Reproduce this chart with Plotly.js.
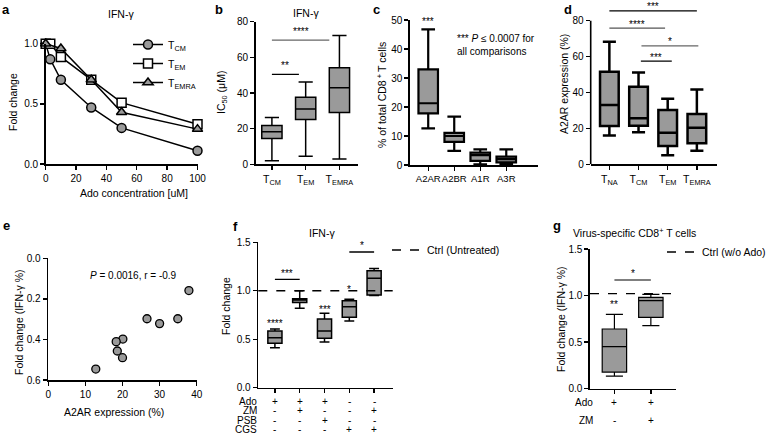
<!DOCTYPE html>
<html>
<head>
<meta charset="utf-8">
<script src="https://cdn.plot.ly/plotly-3.0.1.min.js"></script>
<style>html,body{margin:0;padding:0;background:#fff;}#chart{width:778px;height:439px;}</style>
</head>
<body>
<div id="chart"></div>
<script>
// ---------- DATA ----------
// Panel a
const adoConc = [0, 3, 10, 30, 50, 100];
const foldTCM = [1.0, 0.87, 0.70, 0.47, 0.30, 0.11];
const foldTEM = [1.0, 1.0, 0.89, 0.70, 0.51, 0.33];
const foldTEMRA = [1.0, null, 0.96, 0.70, 0.43, 0.29];
const legendA = ['T<sub>CM</sub>', 'T<sub>EM</sub>', 'T<sub>EMRA</sub>'];
// Panel b
const catB = ['TCM', 'TEM', 'TEMRA'];
const tickB = ['T<sub>CM</sub>', 'T<sub>EM</sub>', 'T<sub>EMRA</sub>'];
const bMin = [2, 4.5, 3];
const bQ1 = [14.5, 25.2, 29];
const bMed = [18.3, 31, 43];
const bQ3 = [21.7, 37.6, 54.2];
const bMax = [26.2, 46.2, 72.3];
const sigBFrom = [0, 0];
const sigBTo = [0.8, 1.7];
const sigBY = [50.5, 69.7];
const sigBText = ['**', '****'];
const sigBColor = ['#000', '#666'];
// Panel c
const catC = ['A2AR', 'A2BR', 'A1R', 'A3R'];
const cMin = [12.6, 4.9, 0.2, 0.2];
const cQ1 = [17.8, 8, 1.4, 0.9];
const cMed = [21.3, 10, 3.4, 2];
const cQ3 = [33, 11.1, 4.3, 2.9];
const cMax = [46.8, 16.7, 5.4, 5.4];
// Panel d
const catD = ['TNA', 'TCM', 'TEM', 'TEMRA'];
const tickD = ['T<sub>NA</sub>', 'T<sub>CM</sub>', 'T<sub>EM</sub>', 'T<sub>EMRA</sub>'];
const dMin = [16.1, 17.8, 5, 7.6];
const dQ1 = [21.3, 21.5, 10.2, 11.7];
const dMed = [33, 25.6, 17.6, 20.4];
const dQ3 = [51.6, 43.2, 30.2, 28];
const dMax = [68.3, 51.2, 36.5, 41.7];
const sigDFrom = [0, 0, 1.1, 1.08];
const sigDTo = [3, 1.91, 3.05, 2.14];
const sigDY = [85.5, 75.9, 66, 57.5];
const sigDText = ['***', '****', '*', '***'];
const sigDColor = ['#000', '#555', '#666', '#000'];
// Panel e
const eA2AR = [37.9, 26.6, 30.0, 34.9, 20.1, 18.3, 18.6, 20.0, 12.8];
const eFold = [0.159, 0.298, 0.322, 0.298, 0.398, 0.411, 0.457, 0.490, 0.546];
// Panel f
const catF = ['Ado', 'Ado+ZM', 'Ado+PSB', 'CGS', 'ZM+CGS'];
const fMin = [0.413, 0.82, 0.471, 0.688, 0.95];
const fQ1 = [0.458, 0.88, 0.509, 0.726, 0.956];
const fMed = [0.516, 0.905, 0.585, 0.836, 1.13];
const fQ3 = [0.585, 0.918, 0.709, 0.898, 1.207];
const fMax = [0.605, 1.0, 0.767, 0.912, 1.23];
const fStarText = ['****', '', '***', '*', ''];
const fStarY = [0.681, 0, 0.829, 1.036, 0];
const sigFFrom = [0, 3];
const sigFTo = [1, 4];
const sigFY = [1.118, 1.40];
const sigFText = ['***', '*'];
const fCtrl = 1.0;
const fRowLabels = ['Ado', 'ZM', 'PSB', 'CGS'];
const fSigns = [['+', '+', '+', '-', '-'], ['-', '+', '-', '-', '+'], ['-', '-', '+', '-', '-'], ['-', '-', '-', '+', '+']];
// Panel g
const catG = ['Ado', 'Ado+ZM'];
const gMin = [0.136, 0.677];
const gQ1 = [0.179, 0.766];
const gMed = [0.451, 0.945];
const gQ3 = [0.641, 0.981];
const gMax = [0.798, 1.013];
const gStarText = ['**', ''];
const gStarY = [0.924, 0];
const sigGFrom = [0];
const sigGTo = [1];
const sigGY = [1.167];
const sigGText = ['*'];
const gCtrl = 1.02;
const gRowLabels = ['Ado', 'ZM'];
const gSigns = [['+', '+'], ['-', '+']];

// ---------- LAYOUT HELPERS ----------
const W = 778, H = 439;
const FONT = 'Liberation Sans, Arial, sans-serif';
const GRAY = '#9a9a9a';
const px = p => p / W;
const py = p => 1 - p / H;
function ax(extra) {
  return Object.assign({
    showline: true, linecolor: '#000', linewidth: 1.6, ticks: 'outside', ticklen: 4,
    tickwidth: 1.4, tickcolor: '#000', showgrid: false, zeroline: false, tickangle: 0,
    tickfont: {size: 10, color: '#000', family: FONT}, fixedrange: true
  }, extra);
}
function boxTrace(xa, ya, cats, q1, med, q3, lo, hi, w, lw) {
  return {type: 'box', xaxis: xa, yaxis: ya, x: cats, q1: q1, median: med, q3: q3,
    lowerfence: lo, upperfence: hi, boxpoints: false, width: w, whiskerwidth: 0.7,
    fillcolor: GRAY, line: {color: '#000', width: lw}, showlegend: false, hoverinfo: 'skip'};
}

const traces = [];
// Panel a
traces.push({type: 'scatter', mode: 'lines+markers', x: adoConc, y: foldTCM, name: legendA[0], legend: 'legend',
  cliponaxis: false, line: {color: '#000', width: 1.5},
  marker: {symbol: 'circle', size: 9, color: GRAY, line: {color: '#000', width: 1.5}}});
traces.push({type: 'scatter', mode: 'lines+markers', x: adoConc, y: foldTEM, name: legendA[1], legend: 'legend',
  cliponaxis: false, line: {color: '#000', width: 1.5},
  marker: {symbol: 'square', size: 9, color: '#fff', line: {color: '#000', width: 1.5}}});
traces.push({type: 'scatter', mode: 'lines+markers', x: adoConc, y: foldTEMRA, name: legendA[2], legend: 'legend',
  connectgaps: true, cliponaxis: false, line: {color: '#000', width: 1.5},
  marker: {symbol: 'triangle-up', size: 9, color: GRAY, line: {color: '#000', width: 1.5}}});
// Panel b, c, d
traces.push(boxTrace('x2', 'y2', catB, bQ1, bMed, bQ3, bMin, bMax, 0.6, 1.5));
traces.push(boxTrace('x3', 'y3', catC, cQ1, cMed, cQ3, cMin, cMax, 0.75, 2.2));
traces.push(boxTrace('x4', 'y4', catD, dQ1, dMed, dQ3, dMin, dMax, 0.64, 2.5));
// Panel e
traces.push({type: 'scatter', mode: 'markers', xaxis: 'x5', yaxis: 'y5', x: eA2AR, y: eFold, showlegend: false,
  cliponaxis: false, marker: {symbol: 'circle', size: 8, color: GRAY, line: {color: '#000', width: 1.3}}});
// Panel f, g
traces.push(boxTrace('x6', 'y6', catF, fQ1, fMed, fQ3, fMin, fMax, 0.57, 1.5));
traces.push(boxTrace('x7', 'y7', catG, gQ1, gMed, gQ3, gMin, gMax, 0.67, 1.2));

const shapes = [];
const annotations = [];
const STAR = {size: 10, color: '#000', family: FONT};
function sig(xa, ya, from, to, ys, texts, colors, shift) {
  for (let i = 0; i < ys.length; i++) {
    shapes.push({type: 'line', xref: xa, yref: ya, x0: from[i], x1: to[i], y0: ys[i], y1: ys[i],
      line: {color: colors ? colors[i] : '#000', width: 1.3}});
    annotations.push({xref: xa, yref: ya, x: (from[i] + to[i]) / 2, y: ys[i], text: texts[i],
      showarrow: false, yanchor: 'middle', yshift: shift, font: STAR});
  }
}
sig('x2', 'y2', sigBFrom, sigBTo, sigBY, sigBText, sigBColor, 9);
sig('x4', 'y4', sigDFrom, sigDTo, sigDY, sigDText, sigDColor, 4);
sig('x6', 'y6', sigFFrom, sigFTo, sigFY, sigFText, null, 6);
sig('x7', 'y7', sigGFrom, sigGTo, sigGY, sigGText, ['#555'], 7);
// y-axis line of panel d (axis extends only to 80)
shapes.push({type: 'line', xref: 'x4 domain', yref: 'y4', x0: 0, x1: 0, y0: 0, y1: 80, line: {color: '#000', width: 1.6}});
// control dashed lines (with legend entries)
shapes.push({type: 'line', xref: 'x6 domain', yref: 'y6', x0: 0, x1: 1, y0: fCtrl, y1: fCtrl,
  line: {color: '#000', width: 1.3, dash: 'dash'}, showlegend: true, legend: 'legend2', name: 'Ctrl (Untreated)'});
shapes.push({type: 'line', xref: 'x7 domain', yref: 'y7', x0: 0, x1: 1, y0: gCtrl, y1: gCtrl,
  line: {color: '#000', width: 1.3, dash: 'dash'}, showlegend: true, legend: 'legend3', name: 'Ctrl (w/o Ado)'});

// stars above boxes
catF.forEach((c, i) => { if (fStarText[i]) annotations.push({xref: 'x6', yref: 'y6', x: i, y: fStarY[i], text: fStarText[i], showarrow: false, yshift: -2, font: STAR}); });
catG.forEach((c, i) => { if (gStarText[i]) annotations.push({xref: 'x7', yref: 'y7', x: i, y: gStarY[i], text: gStarText[i], showarrow: false, yshift: -2, font: STAR}); });
annotations.push({xref: 'x3', yref: 'y3', x: 0, y: 50, text: '***', showarrow: false, yshift: -2, font: STAR});

// tables under f and g
const TAB = {size: 10, family: FONT, color: '#000'};
function table(xa, labels, signs, rowsY, labelRight) {
  labels.forEach((lab, r) => {
    annotations.push({xref: 'paper', yref: 'paper', x: px(labelRight), y: py(rowsY[r]), text: lab, showarrow: false,
      xanchor: 'right', yanchor: 'middle', font: TAB});
    signs[r].forEach((s, c) => {
      annotations.push({xref: xa, yref: 'paper', x: c, y: py(rowsY[r]), text: s, showarrow: false,
        yanchor: 'middle', font: TAB});
    });
  });
}
table('x6', fRowLabels, fSigns, [401, 410.5, 420, 429.5], 259);
table('x7', gRowLabels, gSigns, [402, 420], 595);

// text annotations (titles, axis titles, panel letters)
function txt(x, y, t, o) {
  annotations.push(Object.assign({xref: 'paper', yref: 'paper', x: px(x), y: py(y), text: t, showarrow: false,
    xanchor: 'center', yanchor: 'middle', font: {size: 10.5, family: FONT, color: '#000'}}, o || {}));
}
const letter = {xanchor: 'left', yanchor: 'top', font: {size: 13, family: FONT, color: '#000'}};
txt(0, 0, '<b>a</b>', letter);
txt(213, 0, '<b>b</b>', letter);
txt(371, 0, '<b>c</b>', letter);
txt(562, 0, '<b>d</b>', letter);
txt(1, 216, '<b>e</b>', letter);
txt(231, 217, '<b>f</b>', letter);
txt(551, 216, '<b>g</b>', letter);
// panel titles
txt(121, 14, 'IFN-γ');
txt(306, 13, 'IFN-γ');
txt(322, 233, 'IFN-γ');
txt(634, 232, 'Virus-specific CD8<sup>+</sup> T cells');
// axis titles
const rot = {textangle: -90};
txt(13, 102, 'Fold change', rot);
txt(134, 193, 'Ado concentration [uM]');
txt(222, 93, 'IC<sub>50</sub> (μM)', rot);
txt(381, 95, '% of total CD8<sup> + </sup>T cells', rot);
txt(564, 84, 'A2AR expression (%)', rot);
txt(19, 322, 'Fold change (IFN-γ %)', rot);
txt(114, 412, 'A2AR expression (%)');
txt(226, 306, 'Fold change', rot);
txt(561, 319, 'Fold change (IFN-γ %)', rot);
// stats texts
txt(133, 275, '<i>P</i> = 0.0016, r = -0.9', {font: {size: 10, family: FONT, color: '#000'}});
txt(455, 45, '*** <i>P</i> ≤ 0.0007 for<br>all comparisons', {xanchor: 'left', align: 'left', font: {size: 10, family: FONT, color: '#000'}});

const dYTop = 164.3 - 90 * (164.3 - 20.7) / 80;
const LEG = {size: 10.5, family: FONT, color: '#000'};
const layout = {
  width: W, height: H, margin: {l: 0, r: 0, t: 0, b: 0}, paper_bgcolor: '#fff', plot_bgcolor: 'rgba(0,0,0,0)',
  font: {family: FONT, size: 10, color: '#000'}, showlegend: true,
  xaxis: ax({domain: [px(45.7), px(197.5)], range: [0, 100], anchor: 'y', tickvals: [0, 20, 40, 60, 80, 100]}),
  yaxis: ax({domain: [py(164), py(43.7)], range: [0, 1.0], anchor: 'x', tickvals: [0, 0.5, 1], tickformat: '.1f'}),
  xaxis2: ax({domain: [px(255.7), px(358)], type: 'category', range: [-0.48, 2.55], anchor: 'y2', tickmode: 'array', tickvals: catB, ticktext: tickB, tickfont: {size: 10.5, family: FONT, color: '#000'}}),
  yaxis2: ax({domain: [py(164.3), py(21.7)], range: [0, 80], anchor: 'x2', tickvals: [0, 20, 40, 60, 80]}),
  xaxis3: ax({domain: [px(410), px(538)], type: 'category', range: [-0.7, 4.22], anchor: 'y3', tickfont: {size: 9.5, family: FONT, color: '#000'}}),
  yaxis3: ax({domain: [py(165), py(20)], range: [0, 50], anchor: 'x3', tickvals: [0, 10, 20, 30, 40, 50]}),
  xaxis4: ax({domain: [px(590.7), px(716.7)], type: 'category', range: [-0.64, 3.68], anchor: 'y4', tickmode: 'array', tickvals: catD, ticktext: tickD, tickfont: {size: 10.5, family: FONT, color: '#000'}}),
  yaxis4: ax({domain: [py(164.3), py(dYTop)], range: [0, 90], anchor: 'x4', tickvals: [0, 20, 40, 60, 80], showline: false}),
  xaxis5: ax({domain: [px(48.3), px(196.7)], range: [0, 40], anchor: 'y5', tickvals: [0, 10, 20, 30, 40]}),
  yaxis5: ax({domain: [py(380), py(258.3)], range: [0.6, 0], anchor: 'x5', tickvals: [0, 0.2, 0.4, 0.6], tickformat: '.1f'}),
  xaxis6: ax({domain: [px(258.3), px(392.7)], type: 'category', range: [-0.67, 4.75], anchor: 'y6', showticklabels: false}),
  yaxis6: ax({domain: [py(387.7), py(242.3)], range: [0, 1.5], anchor: 'x6', tickvals: [0, 0.5, 1, 1.5], tickformat: '.1f'}),
  xaxis7: ax({domain: [px(590), px(676)], type: 'category', range: [-0.67, 1.69], anchor: 'y7', showticklabels: false}),
  yaxis7: ax({domain: [py(388.7), py(249)], range: [0, 1.5], anchor: 'x7', tickvals: [0, 0.5, 1, 1.5], tickformat: '.1f'}),
  legend: {x: px(128), y: py(30), xanchor: 'left', yanchor: 'top', bgcolor: 'rgba(0,0,0,0)', font: LEG, tracegroupgap: 0},
  legend2: {x: px(387), y: py(250), xanchor: 'left', yanchor: 'middle', bgcolor: 'rgba(0,0,0,0)', font: LEG},
  legend3: {x: px(662), y: py(252), xanchor: 'left', yanchor: 'middle', bgcolor: 'rgba(0,0,0,0)', font: LEG},
  shapes: shapes, annotations: annotations
};
Plotly.newPlot('chart', traces, layout, {displayModeBar: false, staticPlot: true});
</script>
</body>
</html>
